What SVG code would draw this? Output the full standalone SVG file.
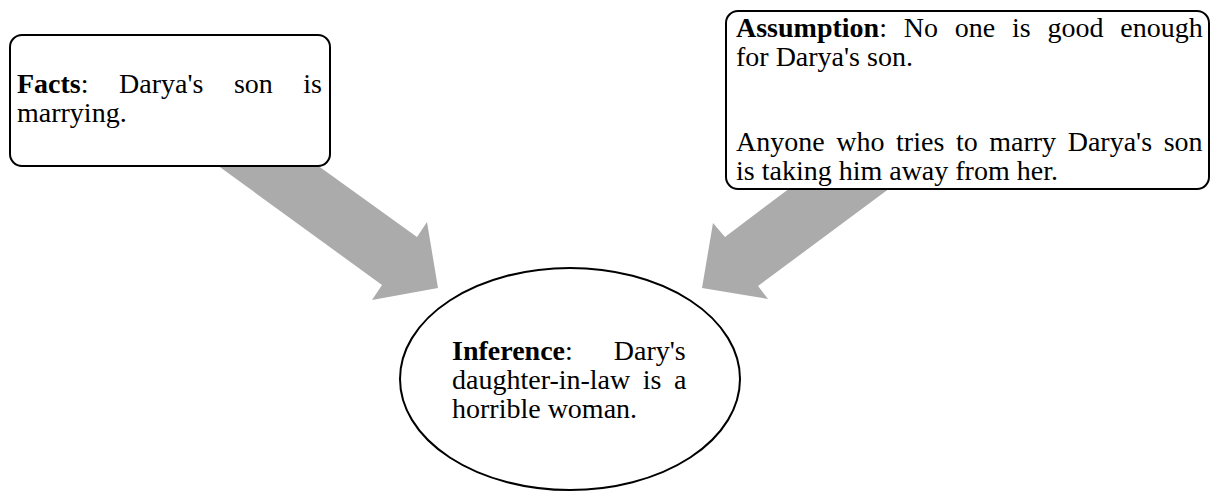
<svg xmlns="http://www.w3.org/2000/svg" width="1211" height="491" viewBox="0 0 1211 491">
  <style>
    .box { fill: #ffffff; stroke: #000000; stroke-width: 2; }
    .arrow { fill: #ababab; stroke: none; }
    text { font-family: "Liberation Serif", "Times New Roman", serif; font-size: 28px; fill: #000000; }
    .b { font-weight: bold; }
  </style>
  <rect width="1211" height="491" fill="#ffffff"/>
  <g id="connectors">
    <polygon class="arrow" points="217,165 317,165 417,237 427,222 438,288 372,300 382,285"/>
    <polygon class="arrow" points="790,188 890,188 758,286 768,299 702,288 713,223 725,237"/>
  </g>
  <g id="facts">
    <rect class="box" x="10" y="35" width="320" height="131" rx="12" ry="12"/>
    <text x="17" y="93" word-spacing="23.5"><tspan class="b">Facts</tspan>: Darya's son is</text>
    <text x="17" y="122">marrying.</text>
  </g>
  <g id="assumption">
    <rect class="box" x="726" y="11" width="483" height="178" rx="12" ry="12"/>
    <text x="736" y="37" word-spacing="9.8"><tspan class="b">Assumption</tspan>: No one is good enough</text>
    <text x="736" y="66">for Darya's son.</text>
    <text x="736" y="151" word-spacing="4.6">Anyone who tries to marry Darya's son</text>
    <text x="736" y="180">is taking him away from her.</text>
  </g>
  <g id="inference">
    <ellipse class="box" cx="570" cy="379" rx="170" ry="111"/>
    <text x="452" y="360" word-spacing="34"><tspan class="b">Inference</tspan>: Dary's</text>
    <text x="452" y="389" word-spacing="5.5">daughter-in-law is a</text>
    <text x="452" y="418">horrible woman.</text>
  </g>
</svg>
